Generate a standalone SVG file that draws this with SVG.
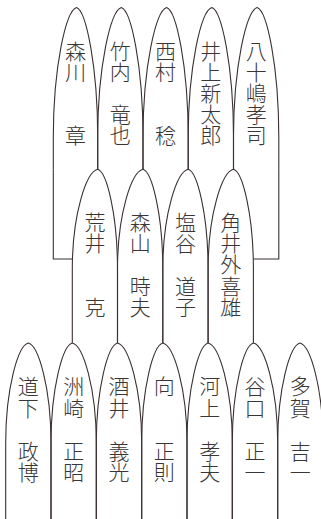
<svg xmlns="http://www.w3.org/2000/svg" width="321" height="519" viewBox="0 0 321 519">
<style>
.arch{fill:none;stroke:#3a3030;stroke-width:1.1}
.conn{fill:none;stroke:#3a3030;stroke-width:1.1}
.nm{font-family:"Noto Sans CJK JP","Noto Sans CJK SC",sans-serif;font-size:21px;font-weight:300;fill:#3a3636;text-anchor:middle}
</style>
<rect width="321" height="519" fill="#fff"/>
<g id="connectors">
<path class="conn" d="M53.3,169.3 V259 H72.3"/>
<path class="conn" d="M278.8,169.3 V259 H253.4"/>
</g>
<!-- Row 1 -->
<g id="n-morikawa">
<path class="arch" d="M53.3,169.3 V137.5 C53.3,66 66.1,10.75 76.5,7.5 C86,10.75 97.7,66 97.7,137.5 V169.3"/>
<text class="nm"><tspan x="75.5" y="59">森</tspan><tspan x="75.5" y="80">川</tspan><tspan x="75.5" y="143">章</tspan></text>
</g>
<g id="n-takeuchi">
<path class="arch" d="M97.7,169.3 V137.5 C97.7,66 110.7,10.75 121.35,7.5 C131.1,10.75 143,66 143,137.5 V169.3"/>
<text class="nm"><tspan x="120.35" y="59">竹</tspan><tspan x="120.35" y="80">内</tspan><tspan x="120.35" y="122">竜</tspan><tspan x="120.35" y="143">也</tspan></text>
</g>
<g id="n-nishimura">
<path class="arch" d="M143,169.3 V137.5 C143,66 156,10.75 166.6,7.5 C176.3,10.75 188.2,66 188.2,137.5 V169.3"/>
<text class="nm"><tspan x="165.6" y="59">西</tspan><tspan x="165.6" y="80">村</tspan><tspan x="165.6" y="143">稔</tspan></text>
</g>
<g id="n-inoue">
<path class="arch" d="M188.2,169.3 V137.5 C188.2,66 201.2,10.75 211.85,7.5 C221.6,10.75 233.5,66 233.5,137.5 V169.3"/>
<text class="nm"><tspan x="210.85" y="59">井</tspan><tspan x="210.85" y="80">上</tspan><tspan x="210.85" y="101">新</tspan><tspan x="210.85" y="122">太</tspan><tspan x="210.85" y="143">郎</tspan></text>
</g>
<g id="n-yasojima">
<path class="arch" d="M233.5,169.3 V137.5 C233.5,66 246.5,10.75 257.15,7.5 C266.9,10.75 278.8,66 278.8,137.5 V169.3"/>
<text class="nm"><tspan x="256.15" y="59">八</tspan><tspan x="256.15" y="80">十</tspan><tspan x="256.15" y="101">嶋</tspan><tspan x="256.15" y="122">孝</tspan><tspan x="256.15" y="143">司</tspan></text>
</g>
<!-- Row 2 -->
<g id="n-arai">
<path class="arch" d="M72.3,343 V269.3 C72.3,214.3 86.3,171.8 97.7,169.3 C106.6,171.8 117.5,214.3 117.5,269.3 V343"/>
<text class="nm"><tspan x="94.9" y="230">荒</tspan><tspan x="94.9" y="251.2">井</tspan><tspan x="94.9" y="314.8">克</tspan></text>
</g>
<g id="n-moriyama">
<path class="arch" d="M117.5,343 V269.3 C117.5,214.3 131.5,171.8 143,169.3 C151.9,171.8 162.8,214.3 162.8,269.3 V343"/>
<text class="nm"><tspan x="140.15" y="230">森</tspan><tspan x="140.15" y="251.2">山</tspan><tspan x="140.15" y="293.6">時</tspan><tspan x="140.15" y="314.8">夫</tspan></text>
</g>
<g id="n-shioya">
<path class="arch" d="M162.8,343 V269.3 C162.8,214.3 176.8,171.8 188.2,169.3 C197.2,171.8 208.1,214.3 208.1,269.3 V343"/>
<text class="nm"><tspan x="185.45" y="230">塩</tspan><tspan x="185.45" y="251.2">谷</tspan><tspan x="185.45" y="293.6">道</tspan><tspan x="185.45" y="314.8">子</tspan></text>
</g>
<g id="n-sumii">
<path class="arch" d="M208.1,343 V269.3 C208.1,214.3 222.1,171.8 233.5,169.3 C242.5,171.8 253.4,214.3 253.4,269.3 V343"/>
<text class="nm"><tspan x="230.75" y="230">角</tspan><tspan x="230.75" y="251.2">井</tspan><tspan x="230.75" y="272.4">外</tspan><tspan x="230.75" y="293.6">喜</tspan><tspan x="230.75" y="314.8">雄</tspan></text>
</g>
<!-- Row 3 -->
<g id="n-michishita">
<path class="arch" d="M5.7,520 V443 C5.7,388 18.1,345.5 28.3,343 C38.5,345.5 51,388 51,443 V520"/>
<text class="nm"><tspan x="28.35" y="394">道</tspan><tspan x="28.35" y="415.5">下</tspan><tspan x="28.35" y="459">政</tspan><tspan x="28.35" y="480">博</tspan></text>
</g>
<g id="n-suzaki">
<path class="arch" d="M51,520 V443 C51,388 62.7,345.5 72.3,343 C83.1,345.5 96.3,388 96.3,443 V520"/>
<text class="nm"><tspan x="73.65" y="394">洲</tspan><tspan x="73.65" y="415.5">崎</tspan><tspan x="73.65" y="459">正</tspan><tspan x="73.65" y="480">昭</tspan></text>
</g>
<g id="n-sakai">
<path class="arch" d="M96.3,520 V443 C96.3,388 108,345.5 117.5,343 C128.4,345.5 141.7,388 141.7,443 V520"/>
<text class="nm"><tspan x="119" y="394">酒</tspan><tspan x="119" y="415.5">井</tspan><tspan x="119" y="459">義</tspan><tspan x="119" y="480">光</tspan></text>
</g>
<g id="n-mukai">
<path class="arch" d="M141.7,520 V443 C141.7,388 153.3,345.5 162.8,343 C173.7,345.5 187,388 187,443 V520"/>
<text class="nm"><tspan x="164.35" y="394">向</tspan><tspan x="164.35" y="459">正</tspan><tspan x="164.35" y="480">則</tspan></text>
</g>
<g id="n-kawakami">
<path class="arch" d="M187,520 V443 C187,388 198.6,345.5 208.1,343 C219,345.5 232.3,388 232.3,443 V520"/>
<text class="nm"><tspan x="209.65" y="394">河</tspan><tspan x="209.65" y="415.5">上</tspan><tspan x="209.65" y="459">孝</tspan><tspan x="209.65" y="480">夫</tspan></text>
</g>
<g id="n-taniguchi">
<path class="arch" d="M232.3,520 V443 C232.3,388 243.9,345.5 253.4,343 C264.3,345.5 277.7,388 277.7,443 V520"/>
<text class="nm"><tspan x="255" y="394">谷</tspan><tspan x="255" y="415.5">口</tspan><tspan x="255" y="459">正</tspan><tspan x="255" y="480">一</tspan></text>
</g>
<g id="n-taga">
<path class="arch" d="M277.7,520 V443 C277.7,388 290,345.5 300,343 C310.4,345.5 323,388 323,443 V520"/>
<text class="nm"><tspan x="300.35" y="394">多</tspan><tspan x="300.35" y="415.5">賀</tspan><tspan x="300.35" y="459">吉</tspan><tspan x="300.35" y="480">一</tspan></text>
</g>
</svg>
